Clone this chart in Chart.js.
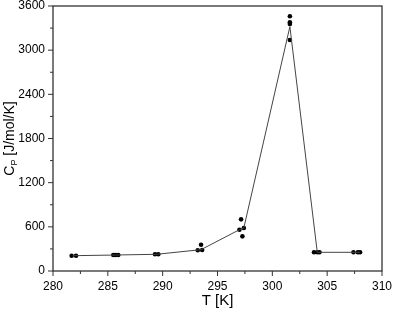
<!DOCTYPE html>
<html>
<head>
  <meta charset="UTF-8">
  <title>Cp vs T</title>
  <script src="https://cdn.jsdelivr.net/npm/chart.js"></script>
  <style>
    body { margin: 0; background: #fff; }
  </style>
</head>
<body>
  <canvas id="cpChart" width="393" height="314"></canvas>
  <script>
    // measured points
    const measT  = [281.7, 282.1, 285.5, 285.7, 285.95, 289.3, 289.6, 293.2, 293.5, 293.6,
                    297.0, 297.15, 297.27, 297.4, 301.6, 301.6, 301.6, 301.6,
                    303.8, 304.1, 304.3, 307.4, 307.8, 308.0];
    const measCp = [208, 208, 217, 217, 217, 227, 227, 281, 357, 285,
                    561, 702, 471, 584, 3460, 3380, 3356, 3138,
                    254, 254, 254, 254, 254, 254];
    // connecting line
    const lineT  = [281.8, 285.7, 289.45, 293.5, 297.0, 297.4, 301.6, 304.1, 308.0];
    const lineCp = [208, 217, 227, 290, 561, 584, 3320, 254, 254];

    const xTicks = [280, 285, 290, 295, 300, 305, 310];
    const yTicks = [0, 600, 1200, 1800, 2400, 3000, 3600];

    const axisColor = '#333';
    const font = { family: 'Liberation Sans, Arial, sans-serif', size: 12 };

    const frame = {
      id: 'frame',
      afterDraw(chart) {
        const { ctx, chartArea: a, scales: { x, y } } = chart;
        ctx.save();
        ctx.strokeStyle = axisColor;
        ctx.lineWidth = 1.3;
        ctx.strokeRect(a.left, a.top, a.right - a.left, a.bottom - a.top);
        // major + minor ticks
        ctx.lineWidth = 1;
        ctx.beginPath();
        for (let v = 280; v <= 310; v += 2.5) {
          const px = x.getPixelForValue(v);
          const len = (v % 5 === 0) ? 5 : 3;
          ctx.moveTo(px, a.bottom);
          ctx.lineTo(px, a.bottom + len);
        }
        for (let v = 0; v <= 3600; v += 300) {
          const py = y.getPixelForValue(v);
          const len = (v % 600 === 0) ? 5 : 3;
          ctx.moveTo(a.left, py);
          ctx.lineTo(a.left - len, py);
        }
        ctx.stroke();
        // y title with subscript
        ctx.fillStyle = '#000';
        ctx.translate(9, (a.top + a.bottom) / 2);
        ctx.rotate(-Math.PI / 2);
        ctx.textBaseline = 'alphabetic';
        const main = '14px Liberation Sans, Arial, sans-serif';
        const sub = '9px Liberation Sans, Arial, sans-serif';
        ctx.font = main;
        const wC = ctx.measureText('C').width;
        const rest = ' [J/mol/K]';
        const wR = ctx.measureText(rest).width;
        ctx.font = sub;
        const wP = ctx.measureText('P').width;
        const total = wC + wP + wR;
        let sx = -total / 2;
        ctx.font = main;
        ctx.fillText('C', sx, 5);
        sx += wC;
        ctx.font = sub;
        ctx.fillText('P', sx, 8);
        sx += wP;
        ctx.font = main;
        ctx.fillText(rest, sx, 5);
        ctx.restore();
      }
    };

    new Chart(document.getElementById('cpChart'), {
      type: 'scatter',
      data: {
        datasets: [
          {
            type: 'line',
            data: lineT.map((t, i) => ({ x: t, y: lineCp[i] })),
            borderColor: '#444',
            borderWidth: 1,
            pointRadius: 0,
            tension: 0
          },
          {
            data: measT.map((t, i) => ({ x: t, y: measCp[i] })),
            backgroundColor: '#000',
            borderColor: '#000',
            pointRadius: 2.3,
            borderWidth: 0
          }
        ]
      },
      options: {
        responsive: false,
        animation: false,
        layout: { padding: 0 },
        plugins: { legend: { display: false }, tooltip: { enabled: false } },
        scales: {
          x: {
            type: 'linear', min: 280, max: 310,
            afterBuildTicks: s => { s.ticks = xTicks.map(v => ({ value: v })); },
            afterFit: s => { s.height = 43; s.paddingRight = 11; s.paddingLeft = 0; },
            grid: { display: false, drawTicks: false },
            border: { display: false },
            ticks: { color: '#000', font, padding: 8, maxRotation: 0, callback: v => String(v) },
            title: { display: true, text: 'T [K]', color: '#000',
                     font: { family: font.family, size: 15 }, padding: { top: 3 } }
          },
          y: {
            type: 'linear', min: 0, max: 3600,
            afterBuildTicks: s => { s.ticks = yTicks.map(v => ({ value: v })); },
            afterFit: s => { s.width = 53; s.paddingTop = 6; s.paddingBottom = 0; },
            grid: { display: false, drawTicks: false },
            border: { display: false },
            ticks: { color: '#000', font, padding: 8, callback: v => String(v) }
          }
        }
      },
      plugins: [frame]
    });
  </script>
</body>
</html>
